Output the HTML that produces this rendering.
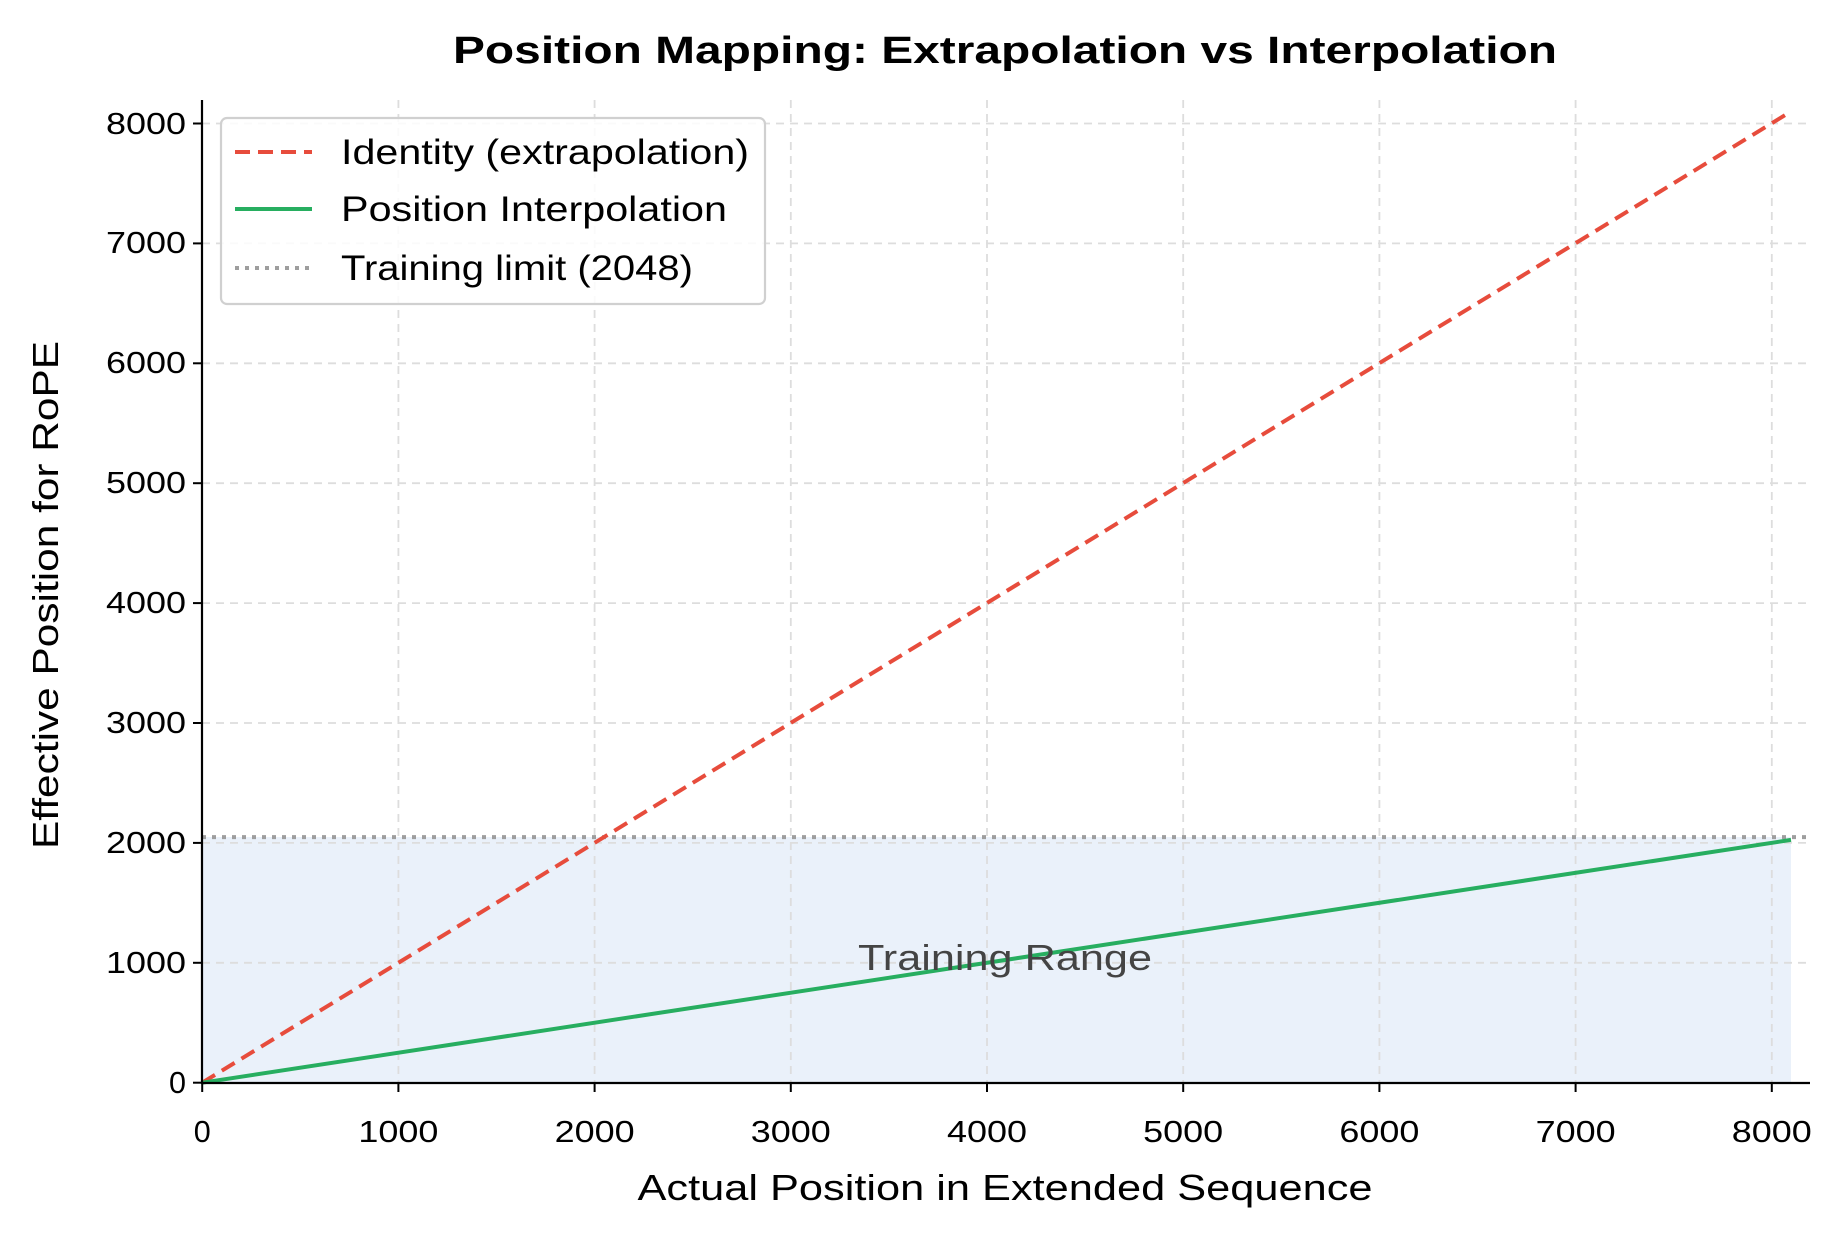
<!DOCTYPE html>
<html><head><meta charset="utf-8"><style>
html,body{margin:0;padding:0;background:#fff;}
svg{display:block;font-family:"Liberation Sans",sans-serif;}
</style></head><body>
<svg width="1834" height="1234" viewBox="0 0 1834 1234" xmlns="http://www.w3.org/2000/svg">
<rect width="1834" height="1234" fill="#fff"/>
<rect x="202" y="837" width="1589" height="246" fill="#eaf1fa"/>
<g stroke="#dddddd" stroke-width="1.8" stroke-dasharray="8,6">
<line x1="398.4" y1="100" x2="398.4" y2="1083"/>
<line x1="594.6" y1="100" x2="594.6" y2="1083"/>
<line x1="790.8" y1="100" x2="790.8" y2="1083"/>
<line x1="987" y1="100" x2="987" y2="1083"/>
<line x1="1183.2" y1="100" x2="1183.2" y2="1083"/>
<line x1="1379.4" y1="100" x2="1379.4" y2="1083"/>
<line x1="1575.6" y1="100" x2="1575.6" y2="1083"/>
<line x1="1771.8" y1="100" x2="1771.8" y2="1083"/>
<line x1="202" y1="962.8" x2="1810" y2="962.8"/>
<line x1="202" y1="842.9" x2="1810" y2="842.9"/>
<line x1="202" y1="723" x2="1810" y2="723"/>
<line x1="202" y1="603.1" x2="1810" y2="603.1"/>
<line x1="202" y1="483.2" x2="1810" y2="483.2"/>
<line x1="202" y1="363.3" x2="1810" y2="363.3"/>
<line x1="202" y1="243.4" x2="1810" y2="243.4"/>
<line x1="202" y1="123.5" x2="1810" y2="123.5"/>
</g>
<line x1="202" y1="837.1" x2="1810" y2="837.1" stroke="#9e9e9e" stroke-width="4" stroke-dasharray="4,6"/>
<line x1="202.2" y1="1082.7" x2="1791" y2="111.5" stroke="#e74c3c" stroke-width="4" stroke-dasharray="15,8"/>
<line x1="202.2" y1="1082.7" x2="1791" y2="839.9" stroke="#27ae60" stroke-width="4"/>
<line x1="202" y1="100" x2="202" y2="1084" stroke="#000" stroke-width="2.2"/>
<line x1="201" y1="1083" x2="1810" y2="1083" stroke="#000" stroke-width="2.2"/>
<g stroke="#000" stroke-width="2">
<line x1="202.2" y1="1083" x2="202.2" y2="1092"/><line x1="398.4" y1="1083" x2="398.4" y2="1092"/>
<line x1="594.6" y1="1083" x2="594.6" y2="1092"/><line x1="790.8" y1="1083" x2="790.8" y2="1092"/>
<line x1="987" y1="1083" x2="987" y2="1092"/><line x1="1183.2" y1="1083" x2="1183.2" y2="1092"/>
<line x1="1379.4" y1="1083" x2="1379.4" y2="1092"/><line x1="1575.6" y1="1083" x2="1575.6" y2="1092"/>
<line x1="1771.8" y1="1083" x2="1771.8" y2="1092"/>
<line x1="193" y1="1082.7" x2="202" y2="1082.7"/><line x1="193" y1="962.8" x2="202" y2="962.8"/>
<line x1="193" y1="842.9" x2="202" y2="842.9"/><line x1="193" y1="723" x2="202" y2="723"/>
<line x1="193" y1="603.1" x2="202" y2="603.1"/><line x1="193" y1="483.2" x2="202" y2="483.2"/>
<line x1="193" y1="363.3" x2="202" y2="363.3"/><line x1="193" y1="243.4" x2="202" y2="243.4"/>
<line x1="193" y1="123.5" x2="202" y2="123.5"/>
</g>
<g font-size="31" fill="#000" text-anchor="middle">
<text x="202.2" y="1142" textLength="17" lengthAdjust="spacingAndGlyphs">0</text><text x="398.4" y="1142" textLength="80" lengthAdjust="spacingAndGlyphs">1000</text>
<text x="594.6" y="1142" textLength="80" lengthAdjust="spacingAndGlyphs">2000</text><text x="790.8" y="1142" textLength="80" lengthAdjust="spacingAndGlyphs">3000</text>
<text x="987" y="1142" textLength="80" lengthAdjust="spacingAndGlyphs">4000</text><text x="1183.2" y="1142" textLength="80" lengthAdjust="spacingAndGlyphs">5000</text>
<text x="1379.4" y="1142" textLength="80" lengthAdjust="spacingAndGlyphs">6000</text><text x="1575.6" y="1142" textLength="80" lengthAdjust="spacingAndGlyphs">7000</text>
<text x="1771.8" y="1142" textLength="80" lengthAdjust="spacingAndGlyphs">8000</text>
</g>
<g font-size="31" fill="#000" text-anchor="end">
<text x="186" y="1093" textLength="17" lengthAdjust="spacingAndGlyphs">0</text>
<text x="186" y="973" textLength="80" lengthAdjust="spacingAndGlyphs">1000</text>
<text x="186" y="853" textLength="80" lengthAdjust="spacingAndGlyphs">2000</text>
<text x="186" y="733" textLength="80" lengthAdjust="spacingAndGlyphs">3000</text>
<text x="186" y="613" textLength="80" lengthAdjust="spacingAndGlyphs">4000</text>
<text x="186" y="493" textLength="80" lengthAdjust="spacingAndGlyphs">5000</text>
<text x="186" y="373" textLength="80" lengthAdjust="spacingAndGlyphs">6000</text>
<text x="186" y="253" textLength="80" lengthAdjust="spacingAndGlyphs">7000</text>
<text x="186" y="134" textLength="80" lengthAdjust="spacingAndGlyphs">8000</text>
</g>
<text x="1005" y="970" font-size="36" fill="#444" text-anchor="middle" textLength="294" lengthAdjust="spacingAndGlyphs">Training Range</text>
<rect x="221" y="118" width="544" height="186" rx="6" fill="#fff" fill-opacity="0.85" stroke="#d0d0d0" stroke-width="2.2"/>
<line x1="235" y1="152" x2="312" y2="152" stroke="#e74c3c" stroke-width="4" stroke-dasharray="15,8"/>
<line x1="235" y1="209" x2="312" y2="209" stroke="#27ae60" stroke-width="4"/>
<line x1="235" y1="268" x2="312" y2="268" stroke="#9e9e9e" stroke-width="4" stroke-dasharray="4,6"/>
<g font-size="35" fill="#000">
<text x="341" y="164" textLength="408" lengthAdjust="spacingAndGlyphs">Identity (extrapolation)</text>
<text x="341" y="221" textLength="386" lengthAdjust="spacingAndGlyphs">Position Interpolation</text>
<text x="341" y="280" textLength="352" lengthAdjust="spacingAndGlyphs">Training limit (2048)</text>
</g>
<text x="1005" y="63" font-size="38" font-weight="bold" text-anchor="middle" textLength="1104" lengthAdjust="spacingAndGlyphs">Position Mapping: Extrapolation vs Interpolation</text>
<text x="1005" y="1200" font-size="36" text-anchor="middle" textLength="735" lengthAdjust="spacingAndGlyphs">Actual Position in Extended Sequence</text>
<text transform="translate(58,595) rotate(-90)" font-size="36" text-anchor="middle" textLength="508" lengthAdjust="spacingAndGlyphs">Effective Position for RoPE</text>
</svg>
</body></html>
